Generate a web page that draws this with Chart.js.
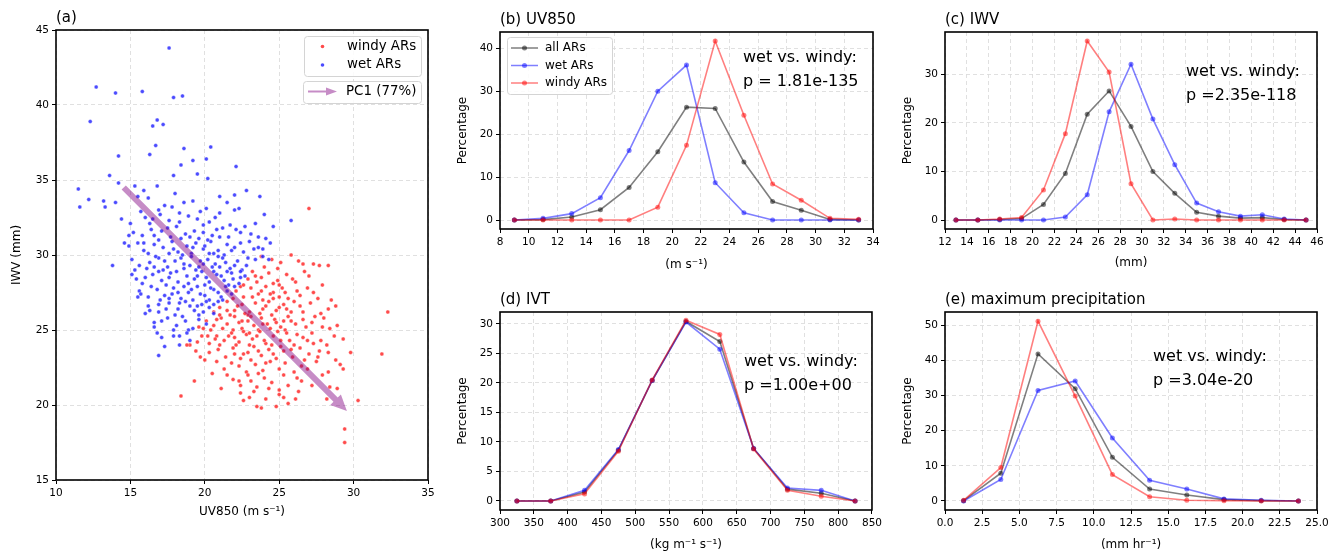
<!DOCTYPE html>
<html lang="en">
<head>
<meta charset="utf-8">
<title>wet vs windy ARs</title>
<script src="https://cdn.jsdelivr.net/npm/chart.js"></script>
<style>
  body { margin: 0; background: #fff; font-family: "DejaVu Sans", sans-serif; }
  #fig { position: relative; width: 1339px; height: 556px; }
  .panel { position: absolute; }
</style>
</head>
<body>
<div id="fig">
  <div class="panel" style="left:0;top:0;width:440px;height:556px"><canvas id="pa"></canvas></div>
  <div class="panel" style="left:445px;top:0;width:440px;height:278px"><canvas id="pb"></canvas></div>
  <div class="panel" style="left:890px;top:0;width:449px;height:278px"><canvas id="pc"></canvas></div>
  <div class="panel" style="left:445px;top:280px;width:440px;height:276px"><canvas id="pd"></canvas></div>
  <div class="panel" style="left:890px;top:280px;width:449px;height:276px"><canvas id="pe"></canvas></div>
</div>
<script>
// ---- (a) scatter: [UV850, IWV]
const wetPts = [
  [17.6,43.8],[12.7,41.2],[14.0,40.8],[15.8,40.9],[17.9,40.5],[18.5,40.6],[12.3,38.9],
  [16.8,39.0],[16.5,38.6],[17.2,38.7],[16.7,37.3],[18.6,37.1],[20.4,37.2],[16.3,36.7],
  [14.2,36.6],[20.1,36.4],[19.2,36.3],[18.4,36.0],[22.1,35.9],[13.6,35.3],[17.9,35.3],
  [19.5,35.4],[20.2,35.1],[11.5,34.4],[12.2,33.7],[11.6,33.2],[13.2,33.6],[13.3,33.2],
  [14.2,34.8],[14.0,33.5],[15.3,34.6],[22.8,34.3],[23.7,33.9],[22.0,34.0],[21.0,33.9],
  [21.5,33.5],[25.8,32.3],[24.0,32.7],[22.3,33.1],[22.0,33.0],[14.4,32.4],[13.8,29.3],
  [14.6,30.8],[16.9,26.2],[16.9,23.3],[17.3,23.9],[16.6,25.5],[17.1,24.5],[16.3,26.3],
  [16.8,24.8],[18.3,24.0],[24.4,30.8],[24.6,31.9],[24.1,31.1],[23.6,30.5],[23.9,29.9],
  [24.3,29.7],
  [15.5,33.9],[16.2,33.8],[17.3,33.3],[18.6,33.5],[19.2,33.6],[17.8,33.2],[20.1,33.1],
  [16.8,34.6],[15.9,34.3],[18.0,34.1],
  [15.0,32.1],[16.0,32.5],[16.5,32.4],[17.0,32.7],[17.6,32.3],[18.3,32.2],[18.9,32.6],
  [19.5,32.4],[20.3,32.2],[21.0,32.8],[21.7,32.0],[22.7,31.9],[23.4,32.1],[16.3,32.1],
  [19.9,32.0],
  [15.2,31.5],[15.8,31.3],[16.4,31.7],[17.1,31.6],[17.7,31.2],[18.1,31.9],[18.7,31.4],
  [19.3,31.6],[19.9,31.5],[20.5,31.3],[21.2,31.8],[21.6,31.2],[22.4,31.5],[23.1,31.4],
  [16.9,31.0],[20.8,31.7],
  [14.9,30.6],[15.5,30.8],[15.9,30.3],[16.6,30.7],[17.2,30.5],[17.8,30.9],[18.2,30.2],
  [18.8,30.6],[19.4,30.8],[19.9,30.4],[20.4,30.9],[20.9,30.3],[21.5,30.7],[22.0,30.5],
  [22.6,30.2],[23.3,30.4],[16.2,30.1],[19.1,30.1],[21.3,30.0],[23.0,30.9],
  [15.1,29.7],[15.6,29.3],[16.3,29.5],[16.9,29.8],[17.5,29.2],[18.0,29.6],[18.6,29.4],
  [19.1,29.9],[19.6,29.2],[20.2,29.7],[20.7,29.4],[21.2,29.8],[21.7,29.1],[22.2,29.6],
  [22.8,29.3],[23.4,29.7],[17.2,29.0],[19.4,29.0],[21.0,29.2],[22.5,29.0],[15.3,29.0],
  [15.4,28.4],[15.8,28.1],[16.5,28.7],[17.1,28.3],[17.7,28.8],[18.2,28.2],[18.8,28.6],
  [19.3,28.4],[19.8,28.9],[20.3,28.2],[20.8,28.7],[21.3,28.3],[21.8,28.8],[22.3,28.1],
  [22.7,28.6],[17.4,28.0],[20.0,28.0],[21.6,28.0],[16.0,28.5],
  [15.6,27.6],[16.2,27.2],[16.8,27.7],[17.3,27.3],[17.9,27.8],[18.4,27.1],[18.9,27.5],
  [19.5,27.9],[20.0,27.3],[20.6,27.7],[21.1,27.2],[21.5,27.6],[22.0,27.9],[19.2,27.0],
  [20.3,27.0],[15.7,27.4],
  [16.2,26.6],[16.9,26.7],[17.6,26.8],[18.2,26.4],[18.7,26.9],[19.3,26.3],[19.8,26.7],
  [20.3,26.5],[20.9,26.9],[18.0,26.0],[19.6,26.0],[20.6,26.1],
  [16.6,25.2],[17.5,25.8],[18.1,25.3],[18.7,25.6],[19.2,25.1],[19.6,25.7],[20.1,25.4],
  [17.9,25.0],[18.9,25.0],[18.8,24.8],[19.0,24.3],[18.3,24.6],
  [17.6,30.1],[18.4,29.8],[19.0,29.3],[19.7,29.6],[20.3,30.1],[20.9,29.9],[21.4,29.5],
  [22.0,29.3],[18.1,28.9],[18.9,28.1],[19.5,28.6],[20.1,28.5],[20.6,28.9],[21.1,28.6],
  [21.9,28.4],[22.4,28.9],[17.8,27.4],[18.6,27.9],[19.1,27.7],[19.7,27.4],[20.4,27.8],
  [20.9,27.5],[21.4,27.9],[21.8,27.4],[18.3,26.8],[19.0,26.6],[19.5,26.6],[20.1,26.9],
  [20.6,26.7],[21.2,27.0],[16.7,29.9],[17.3,29.6],[17.9,30.4],[18.5,30.0],[19.2,30.5],
  [20.0,30.6],[20.6,30.1],[21.8,30.3],[22.4,30.8],[16.1,29.1],[16.6,29.2],[17.6,28.5],
  [18.6,29.1],[19.9,29.4],[20.5,29.2],[21.5,28.9],[17.0,27.0],[17.6,27.1],[18.2,27.5],
  [16.4,27.9],[16.9,28.9],[15.9,30.8],[16.6,31.3],[17.5,31.8],[18.4,31.1],[19.0,31.2],
  [19.6,31.1],[20.2,31.0],[21.0,31.2],[22.1,31.7],[18.3,32.8],[19.7,32.9],[20.7,32.5],
  [16.9,33.0],[17.4,26.4],[18.5,25.9],[19.9,26.2],[17.9,24.6],[22.4,28.5],[22.9,29.8],
  [23.6,31.2],[23.9,30.4],[15.7,32.9],[14.9,31.3],[15.1,28.7],[15.5,27.2],[16.0,26.1],
  [17.1,25.6]
];
const windyPts = [
  [27.0,33.1],[32.3,26.2],[31.9,23.4],[29.4,18.4],[29.4,17.5],[28.5,27.0],[27.7,29.3],
  [28.3,29.3],[30.3,20.3],[18.4,20.6],[23.5,19.9],[23.8,19.8],
  [23.8,29.9],[24.5,29.7],[25.8,30.0],[26.3,29.6],[27.3,29.4],[26.6,29.4],[25.1,29.5],
  [23.2,28.9],[23.8,28.5],[24.3,28.8],[24.9,28.3],[25.5,28.7],[26.1,28.2],[27.0,28.6],
  [27.9,28.0],[23.5,28.2],[22.9,28.4],[24.6,28.1],
  [22.1,27.6],[22.6,27.2],[23.1,27.8],[23.6,27.4],[24.1,27.9],[24.6,27.5],[25.2,27.8],
  [25.6,27.1],[26.2,27.6],[26.9,27.8],[27.3,27.5],[22.4,27.9],[23.9,27.0],[25.0,27.2],
  [21.0,26.5],[21.5,26.9],[22.0,26.3],[22.5,26.7],[23.0,26.2],[23.4,26.8],[23.9,26.4],
  [24.3,26.9],[24.8,26.3],[25.3,26.7],[25.8,26.2],[26.4,26.6],[27.1,26.8],[28.3,26.4],
  [21.7,26.0],[22.9,26.0],[24.5,26.0],[26.0,26.9],[20.6,26.2],
  [19.6,25.2],[20.1,25.6],[20.6,25.3],[21.1,25.8],[21.5,25.4],[22.0,25.9],[22.5,25.1],
  [22.9,25.6],[23.3,25.3],[23.8,25.8],[24.2,25.4],[24.7,25.7],[25.1,25.2],[25.6,25.9],
  [26.1,25.4],[26.6,25.7],[27.2,25.5],[27.9,25.2],[28.4,25.1],[20.4,25.0],[21.9,25.0],
  [23.6,25.0],[25.4,25.0],[19.9,25.1],
  [19.0,24.0],[19.5,24.2],[20.3,24.1],[20.8,24.6],[21.3,24.3],[21.8,24.8],[22.3,24.2],
  [22.8,24.7],[23.2,24.4],[23.7,24.9],[24.1,24.1],[24.6,24.6],[25.1,24.3],[25.5,24.8],
  [26.0,24.0],[26.6,24.5],[27.2,24.8],[27.8,24.3],[28.2,24.0],[29.3,24.4],[18.8,24.0],
  [19.4,23.6],[20.0,23.0],[20.9,23.7],[21.4,23.2],[21.9,23.8],[22.4,23.1],[22.9,23.5],
  [23.3,23.9],[23.8,23.3],[24.3,23.7],[24.8,23.1],[25.3,23.6],[25.9,23.2],[26.4,23.8],
  [27.0,23.4],[27.6,23.2],[28.3,23.5],[29.8,23.5],[28.8,23.0],
  [20.8,22.9],[21.3,22.4],[21.8,22.8],[22.3,22.6],[22.8,22.2],[23.4,22.7],[23.9,22.3],
  [24.4,22.9],[25.0,22.4],[25.4,22.8],[26.0,22.2],[26.5,22.6],[27.5,22.9],[28.3,22.2],
  [29.1,22.7],[29.3,22.4],[20.5,22.1],
  [21.1,21.1],[21.9,21.7],[22.3,21.6],[22.4,21.3],[23.1,21.6],[23.5,21.2],[24.0,21.8],
  [24.5,21.5],[25.0,21.0],[25.6,21.3],[26.5,21.6],[27.2,21.3],[28.4,21.2],[28.9,21.1],
  [19.3,21.6],
  [22.4,20.8],[23.0,20.5],[23.3,20.9],[24.1,20.4],[25.0,20.7],[25.6,20.1],[26.1,20.4],
  [28.2,20.4],
  [22.0,24.5],[22.6,24.9],[23.0,24.0],[23.5,24.6],[24.0,24.3],[24.4,25.1],[24.9,24.9],
  [25.3,25.6],[23.1,25.9],[23.7,26.1],[24.1,26.6],[24.6,27.1],[25.0,26.5],[25.5,26.4],
  [22.2,26.6],[22.7,26.1],[23.2,27.2],[23.8,27.6],[24.4,27.4],[25.0,28.0],[22.1,24.0],
  [21.6,24.6],[21.2,25.1],[20.7,24.4],[20.2,24.6],[21.0,24.0],[22.6,23.4],[23.1,23.0],
  [23.6,23.6],[24.1,22.8],[24.6,23.4],[25.1,23.9],[25.7,24.3],[26.2,24.7],[26.8,25.2],
  [27.4,25.9],[26.6,26.2],[27.6,27.1],[26.4,27.3],[25.9,28.4],[26.7,28.9],[24.0,29.2],
  [24.9,29.1],[22.6,28.0],[23.4,28.6],[21.5,26.3],[21.9,27.1],[20.8,25.7],[22.3,25.5],
  [23.0,24.8],[24.5,24.0],[25.8,23.7],[26.7,23.0],[27.3,24.1],[28.0,25.8],[28.7,24.6],
  [27.8,26.1],[22.0,23.4],[21.5,22.0],[22.9,22.0],[23.6,22.1],[24.3,21.1],[25.3,22.0],
  [26.2,21.8],[26.9,22.4],[27.9,22.0],[20.3,23.5],[19.7,23.2],[19.8,24.6],[21.0,26.0],
  [24.8,25.5],[25.8,25.6],[23.9,25.4],[22.5,25.6],[26.9,24.3],[25.4,27.5],[27.7,23.6],
  [28.9,25.3],[28.8,26.6],[26.3,20.9],[25.3,20.5],[22.6,20.3],[24.8,19.9]
];
const pc1From = [14.55, 34.5];
const pc1To = [29.55, 19.6];
const pc1Label = 'PC1 (77%)';
const aXTicks = [10, 15, 20, 25, 30, 35];
const aYTicks = [15, 20, 25, 30, 35, 40, 45];

// ---- (b) UV850
const uvBins = [9, 11, 13, 15, 17, 19, 21, 23, 25, 27, 29, 31, 33];
const uvAll = [0, 0.1, 0.7, 2.4, 7.6, 15.9, 26.3, 26.0, 13.5, 4.3, 2.3, 0.15, 0];
const uvWet = [0, 0.4, 1.5, 5.2, 16.2, 30.0, 36.1, 8.7, 1.7, 0, 0, 0, 0];
const uvWindy = [0, 0, 0, 0, 0, 3.0, 17.4, 41.7, 24.4, 8.4, 4.6, 0.4, 0.2];
const uvXTicks = [8, 10, 12, 14, 16, 18, 20, 22, 24, 26, 28, 30, 32, 34];
const uvYTicks = [0, 10, 20, 30, 40];

// ---- (c) IWV
const iwvBins = [13, 15, 17, 19, 21, 23, 25, 27, 29, 31, 33, 35, 37, 39, 41, 43, 45];
const iwvAll = [0, 0, 0.1, 0.3, 3.2, 9.6, 21.8, 26.6, 19.3, 10.0, 5.5, 1.6, 0.8, 0.4, 0.5, 0.1, 0];
const iwvWet = [0, 0, 0, 0, 0, 0.6, 5.2, 22.3, 32.1, 20.8, 11.4, 3.5, 1.7, 0.8, 1.1, 0.2, 0];
const iwvWindy = [0, 0, 0.2, 0.5, 6.2, 17.8, 36.9, 30.5, 7.5, 0, 0.2, 0, 0, 0, 0, 0, 0];
const iwvXTicks = [12, 14, 16, 18, 20, 22, 24, 26, 28, 30, 32, 34, 36, 38, 40, 42, 44, 46];
const iwvYTicks = [0, 10, 20, 30];

// ---- (d) IVT
const ivtBins = [325, 375, 425, 475, 525, 575, 625, 675, 725, 775, 825];
const ivtAll = [0, 0, 1.5, 8.6, 20.4, 30.4, 27.0, 8.9, 2.0, 1.3, 0];
const ivtWet = [0, 0, 1.8, 8.7, 20.4, 30.3, 25.7, 8.9, 2.2, 1.8, 0];
const ivtWindy = [0, 0, 1.2, 8.4, 20.5, 30.6, 28.2, 8.8, 1.8, 0.8, 0];
const ivtXTicks = [300, 350, 400, 450, 500, 550, 600, 650, 700, 750, 800, 850];
const ivtYTicks = [0, 5, 10, 15, 20, 25, 30];

// ---- (e) maximum precipitation
const prBins = [1.25, 3.75, 6.25, 8.75, 11.25, 13.75, 16.25, 18.75, 21.25, 23.75];
const prAll = [0.1, 7.9, 41.8, 31.9, 12.4, 3.4, 1.7, 0.4, 0.1, 0];
const prWet = [0, 6.1, 31.4, 34.1, 17.9, 5.9, 3.4, 0.6, 0.2, 0];
const prWindy = [0.2, 9.5, 51.1, 29.8, 7.5, 1.2, 0.2, 0.1, 0, 0];
const prXTicks = [0, 2.5, 5, 7.5, 10, 12.5, 15, 17.5, 20, 22.5, 25];
const prYTicks = [0, 10, 20, 30, 40, 50];

const FONT = '"DejaVu Sans", sans-serif';
const GREY = 'rgba(0,0,0,0.5)', BLUE = 'rgba(0,0,255,0.5)', RED = 'rgba(255,0,0,0.5)';
const GRID = '#dcdcdc';

// frame, panel title, p-value note
const decor = {
  id: 'decor',
  afterDraw(chart, args, o) {
    const { ctx, chartArea: a } = chart;
    ctx.save();
    ctx.strokeStyle = '#000';
    ctx.lineWidth = 1.6;
    ctx.strokeRect(a.left, a.top, a.right - a.left, a.bottom - a.top);
    ctx.fillStyle = '#000';
    ctx.textBaseline = 'alphabetic';
    ctx.font = '15px ' + FONT;
    ctx.fillText(o.title, a.left, a.top - 8);
    if (o.note) {
      ctx.font = '16px ' + FONT;
      o.note.forEach((t, i) => ctx.fillText(t, o.noteX, o.noteY + i * 24));
    }
    ctx.restore();
  }
};

function drawArrow(ctx, x0, y0, x1, y1, shaft, headW, headL) {
  const len = Math.hypot(x1 - x0, y1 - y0);
  const ux = (x1 - x0) / len, uy = (y1 - y0) / len;
  const px = -uy, py = ux;
  const bx = x1 - ux * headL, by = y1 - uy * headL;
  ctx.beginPath();
  ctx.moveTo(x0 + px * shaft / 2, y0 + py * shaft / 2);
  ctx.lineTo(bx + px * shaft / 2, by + py * shaft / 2);
  ctx.lineTo(bx + px * headW / 2, by + py * headW / 2);
  ctx.lineTo(x1, y1);
  ctx.lineTo(bx - px * headW / 2, by - py * headW / 2);
  ctx.lineTo(bx - px * shaft / 2, by - py * shaft / 2);
  ctx.lineTo(x0 - px * shaft / 2, y0 - py * shaft / 2);
  ctx.closePath();
  ctx.fill();
}

function legendBox(ctx, x, y, w, h) {
  ctx.beginPath();
  ctx.roundRect(x, y, w, h, 3);
  ctx.fillStyle = 'rgba(255,255,255,0.85)';
  ctx.fill();
  ctx.strokeStyle = '#d4d4d4';
  ctx.lineWidth = 1;
  ctx.stroke();
}

// PC1 arrow and the two legend boxes of panel (a)
const pcArrow = {
  id: 'pcArrow',
  afterDatasetsDraw(chart) {
    const { ctx, scales: { x, y } } = chart;
    ctx.save();
    ctx.fillStyle = 'rgba(128,0,128,0.45)';
    drawArrow(ctx, x.getPixelForValue(pc1From[0]), y.getPixelForValue(pc1From[1]),
      x.getPixelForValue(pc1To[0]), y.getPixelForValue(pc1To[1]), 6, 15, 16);
    ctx.restore();
  },
  afterDraw(chart) {
    const ctx = chart.ctx;
    ctx.save();
    legendBox(ctx, 304.5, 36.5, 117, 40);
    legendBox(ctx, 303.5, 81.5, 118, 22);
    ctx.font = '13.4px ' + FONT;
    ctx.textBaseline = 'middle';
    chart.data.datasets.forEach((ds, i) => {
      const yy = 46.5 + i * 18.5;
      ctx.fillStyle = ds.backgroundColor;
      ctx.beginPath(); ctx.arc(322.5, yy, 1.8, 0, Math.PI * 2); ctx.fill();
      ctx.fillStyle = '#000';
      ctx.fillText(ds.label, 347, yy);
    });
    ctx.fillStyle = 'rgba(128,0,128,0.45)';
    drawArrow(ctx, 308, 91.5, 337, 91.5, 2, 8, 11);
    ctx.fillStyle = '#000';
    ctx.fillText(pc1Label, 346, 92);
    ctx.restore();
  }
};

// line legend of panel (b)
const lineLegend = {
  id: 'lineLegend',
  afterDraw(chart) {
    const ctx = chart.ctx;
    ctx.save();
    legendBox(ctx, 62.5, 37.5, 105, 57);
    ctx.font = '12px ' + FONT;
    ctx.textBaseline = 'middle';
    chart.data.datasets.forEach((ds, i) => {
      const yy = 48 + i * 17.5;
      ctx.strokeStyle = ds.borderColor;
      ctx.lineWidth = 1.5;
      ctx.beginPath(); ctx.moveTo(66, yy); ctx.lineTo(93, yy); ctx.stroke();
      ctx.fillStyle = ds.borderColor;
      ctx.beginPath(); ctx.arc(79.5, yy, 2.5, 0, Math.PI * 2); ctx.fill();
      ctx.fillStyle = '#000';
      ctx.fillText(ds.label, 100, yy);
    });
    ctx.restore();
  }
};

function axis(min, max, ticks, fmt, size, title, titlePad, vertical) {
  return {
    type: 'linear', min: min, max: max,
    afterBuildTicks: s => { s.ticks = ticks.map(v => ({ value: v })); },
    afterFit: s => { if (vertical) s.width = size; else s.height = size; },
    grid: { color: GRID, lineWidth: 0.9, tickColor: '#000', tickLength: 4, tickWidth: 1, tickBorderDash: [] },
    border: { display: false, dash: [4, 3] },
    ticks: { color: '#000', font: { family: FONT, size: 10.5 }, padding: 3, autoSkip: false, maxRotation: 0,
             callback: v => fmt(v) },
    title: { display: true, text: title, color: '#000', font: { family: FONT, size: 12 }, padding: titlePad }
  };
}

const baseOpts = {
  responsive: true,
  maintainAspectRatio: false,
  animation: false,
  events: [],
  plugins: { legend: { display: false }, tooltip: { enabled: false } }
};

function series(label, bins, vals, color, order) {
  return {
    label: label,
    data: bins.map((b, i) => ({ x: b, y: vals[i] })),
    borderColor: color, backgroundColor: color,
    borderWidth: 1.6, pointRadius: 2.5, pointBorderWidth: 0, tension: 0, order: order
  };
}

function linePanel(id, p) {
  return new Chart(document.getElementById(id), {
    type: 'line',
    data: { datasets: [
      series('all ARs', p.bins, p.all, GREY, 3),
      series('wet ARs', p.bins, p.wet, BLUE, 2),
      series('windy ARs', p.bins, p.windy, RED, 1)
    ] },
    options: Object.assign({}, baseOpts, {
      layout: { padding: { top: 32, right: p.right, left: 0, bottom: 0 } },
      scales: {
        x: axis(p.xr[0], p.xr[1], p.xt, p.xf || (v => String(v)), p.xh, p.xtitle, { top: 2, bottom: p.xpad }, false),
        y: axis(p.yr[0], p.yr[1], p.yt, v => String(v), 55, 'Percentage', { top: 10.4, bottom: 0 }, true)
      },
      plugins: Object.assign({}, baseOpts.plugins, {
        decor: { title: p.title, note: ['wet vs. windy:', p.pval], noteX: p.nx, noteY: p.ny }
      })
    }),
    plugins: p.legend ? [decor, lineLegend] : [decor]
  });
}

// (a)
new Chart(document.getElementById('pa'), {
  type: 'scatter',
  data: { datasets: [
    { label: 'windy ARs', data: windyPts.map(p => ({ x: p[0], y: p[1] })), order: 2,
      backgroundColor: 'rgba(255,30,30,0.8)', borderColor: 'rgba(255,255,255,0.7)', borderWidth: 0.5, pointRadius: 2 },
    { label: 'wet ARs', data: wetPts.map(p => ({ x: p[0], y: p[1] })), order: 1,
      backgroundColor: 'rgba(30,30,255,0.8)', borderColor: 'rgba(255,255,255,0.7)', borderWidth: 0.5, pointRadius: 2 }
  ] },
  options: Object.assign({}, baseOpts, {
    layout: { padding: { top: 30, right: 12, left: 0, bottom: 0 } },
    scales: {
      x: axis(10, 35, aXTicks, v => String(v), 76, 'UV850 (m s\u207B\u00B9)', { top: 2, bottom: 36.8 }, false),
      y: axis(15, 45, aYTicks, v => String(v), 56, 'IWV (mm)', { top: 10, bottom: 0 }, true)
    },
    plugins: Object.assign({}, baseOpts.plugins, { decor: { title: '(a)' } })
  }),
  plugins: [decor, pcArrow]
});

linePanel('pb', { bins: uvBins, all: uvAll, wet: uvWet, windy: uvWindy, title: '(b) UV850',
  xr: [8, 34], xt: uvXTicks, yr: [-2.085, 43.8], yt: uvYTicks, xh: 49, xpad: 6.4, right: 12,
  xtitle: '(m s\u207B\u00B9)', pval: 'p = 1.81e-135', nx: 298, ny: 62, legend: true });

linePanel('pc', { bins: iwvBins, all: iwvAll, wet: iwvWet, windy: iwvWindy, title: '(c) IWV',
  xr: [12, 46], xt: iwvXTicks, yr: [-1.85, 38.75], yt: iwvYTicks, xh: 49, xpad: 8.4, right: 22,
  xtitle: '(mm)', pval: 'p =2.35e-118', nx: 296, ny: 76 });

linePanel('pd', { bins: ivtBins, all: ivtAll, wet: ivtWet, windy: ivtWindy, title: '(d) IVT',
  xr: [300, 850], xt: ivtXTicks, yr: [-1.53, 32.0], yt: ivtYTicks, xh: 46, xpad: 3.7, right: 12,
  xtitle: '(kg m\u207B\u00B9 s\u207B\u00B9)', pval: 'p =1.00e+00', nx: 299, ny: 86 });

linePanel('pe', { bins: prBins, all: prAll, wet: prWet, windy: prWindy, title: '(e) maximum precipitation',
  xr: [0, 25], xt: prXTicks, xf: v => v.toFixed(1), yr: [-2.56, 53.7], yt: prYTicks, xh: 46, xpad: 3.7, right: 22,
  xtitle: '(mm hr\u207B\u00B9)', pval: 'p =3.04e-20', nx: 263, ny: 81 });
</script>
</body>
</html>
